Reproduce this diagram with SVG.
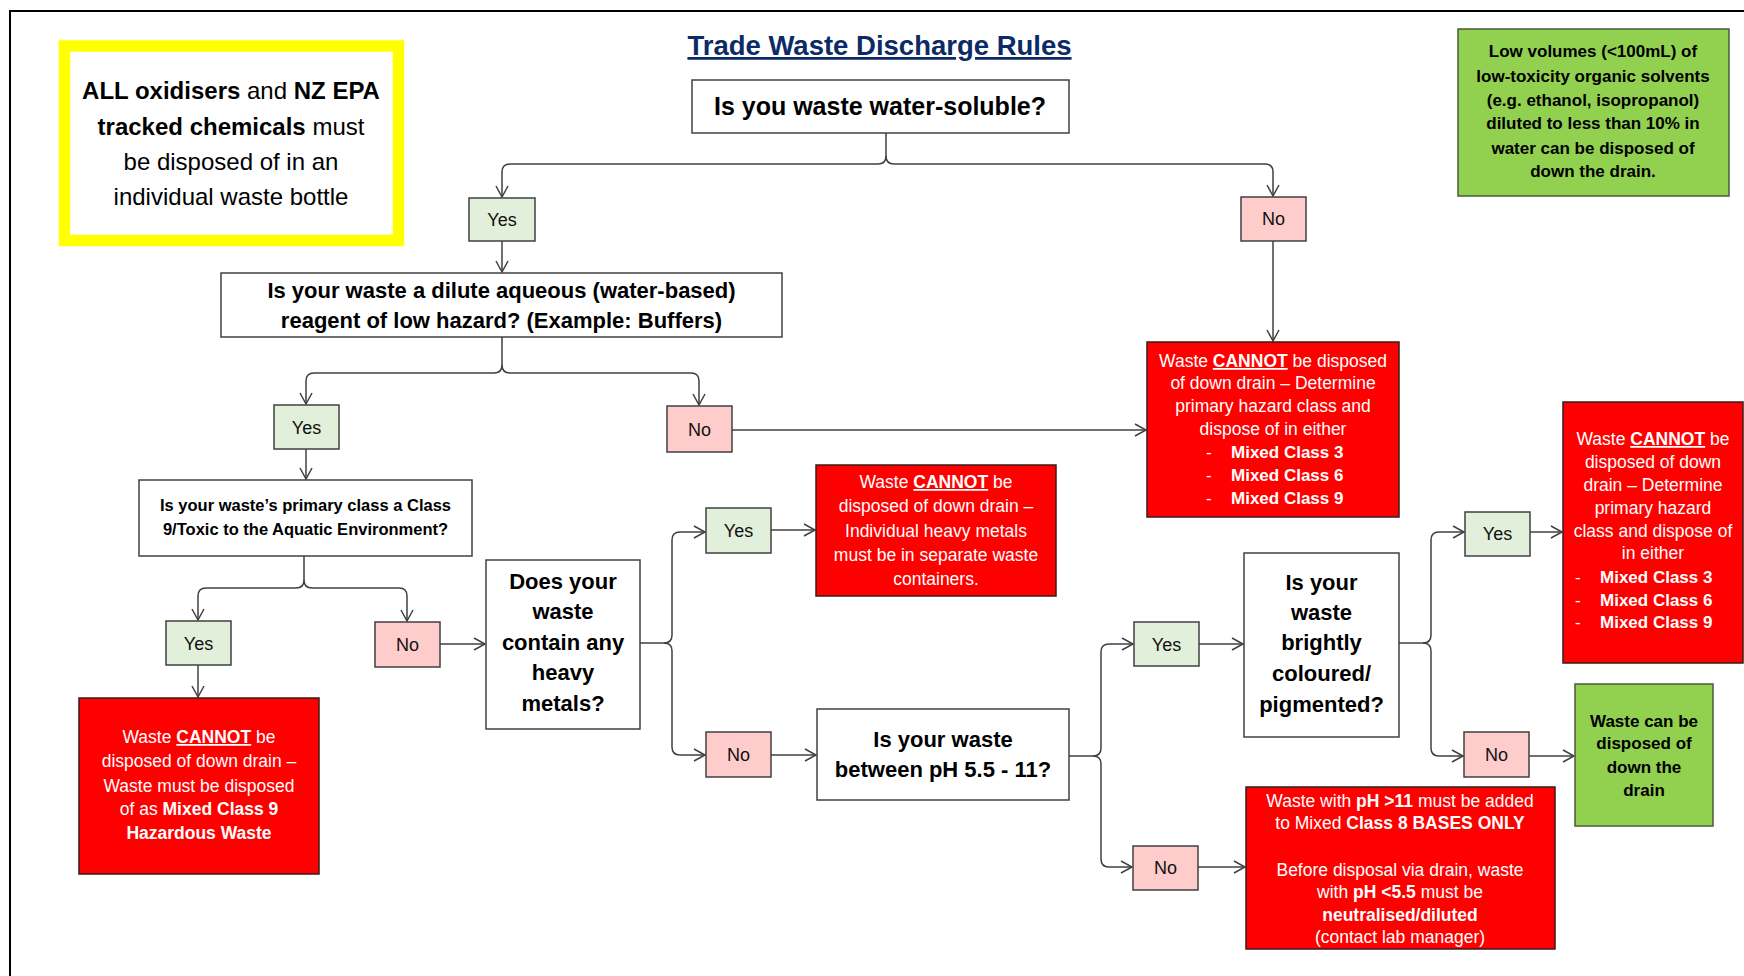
<svg xmlns="http://www.w3.org/2000/svg" width="1744" height="976" viewBox="0 0 1744 976">
<defs>
<style>
text{font-family:"Liberation Sans",Arial,sans-serif;}
.q{fill:#fff;stroke:#404040;stroke-width:1.5;}
.yes{fill:#e2efda;stroke:#404040;stroke-width:1.5;}
.no{fill:#ffcccc;stroke:#404040;stroke-width:1.5;}
.red{fill:#ff0000;stroke:#3a1a1a;stroke-width:1.5;}
.grn{fill:#92d050;stroke:#4a5a3a;stroke-width:1.5;}
.lbl{font-size:18px;fill:#111;text-anchor:middle;}
.qt{font-weight:bold;fill:#000;text-anchor:middle;}
.rt{font-size:17.5px;fill:#fff;text-anchor:middle;}
.gt{font-size:17px;font-weight:bold;fill:#000;text-anchor:middle;}
.b{font-weight:bold;}
.u{text-decoration:underline;font-weight:bold;}
.c{fill:none;stroke:#404040;stroke-width:1.5;}
</style>
<marker id="ah" markerUnits="userSpaceOnUse" markerWidth="14" markerHeight="16" viewBox="-1 -8 13 16" refX="11" refY="0" orient="auto">
<path d="M0,-6 L11,0 L0,6" fill="none" stroke="#404040" stroke-width="1.5"/>
</marker>
</defs>
<rect width="1744" height="976" fill="#fff"/>
<rect x="10" y="11" width="1760" height="1000" fill="none" stroke="#000" stroke-width="2"/>

<g id="title">
<text x="879.5" y="55" font-size="27.5" font-weight="bold" fill="#0b2a66" text-anchor="middle" style="text-decoration:underline">Trade Waste Discharge Rules</text>
</g>

<g id="note-yellow">
<rect x="64.5" y="46" width="334" height="194.5" fill="#fff" stroke="#ffff00" stroke-width="11.5"/>
<text x="231" y="99" font-size="24" text-anchor="middle" fill="#000"><tspan class="b">ALL oxidisers</tspan> and <tspan class="b">NZ EPA</tspan></text>
<text x="231" y="135" font-size="24" text-anchor="middle" fill="#000"><tspan class="b">tracked chemicals</tspan> must</text>
<text x="231" y="170" font-size="24" text-anchor="middle" fill="#000">be disposed of in an</text>
<text x="231" y="205" font-size="24" text-anchor="middle" fill="#000">individual waste bottle</text>
</g>

<g id="note-green">
<rect class="grn" x="1458" y="29" width="271" height="167"/>
<text class="gt" x="1593" y="57">Low volumes (&lt;100mL) of</text>
<text class="gt" x="1593" y="82">low-toxicity organic solvents</text>
<text class="gt" x="1593" y="106">(e.g. ethanol, isopropanol)</text>
<text class="gt" x="1593" y="129">diluted to less than 10% in</text>
<text class="gt" x="1593" y="154">water can be disposed of</text>
<text class="gt" x="1593" y="177">down the drain.</text>
</g>

<g id="connectors">
<path class="c" d="M886 133 V156 Q886 164 878 164 H510 Q502 164 502 172 V197" marker-end="url(#ah)"/>
<path class="c" d="M886 156 Q886 164 894 164 H1265 Q1273 164 1273 172 V196" marker-end="url(#ah)"/>
<path class="c" d="M502 241 V272" marker-end="url(#ah)"/>
<path class="c" d="M1273 241 V341" marker-end="url(#ah)"/>
<path class="c" d="M502 337 V365 Q502 373 494 373 H314 Q306 373 306 381 V404" marker-end="url(#ah)"/>
<path class="c" d="M502 365 Q502 373 510 373 H691 Q699 373 699 381 V405" marker-end="url(#ah)"/>
<path class="c" d="M732 430 H1146" marker-end="url(#ah)"/>
<path class="c" d="M306 449 V479" marker-end="url(#ah)"/>
<path class="c" d="M304 556 V580 Q304 588 296 588 H206 Q198 588 198 596 V620" marker-end="url(#ah)"/>
<path class="c" d="M304 580 Q304 588 312 588 H399 Q407 588 407 596 V621" marker-end="url(#ah)"/>
<path class="c" d="M198 665 V697" marker-end="url(#ah)"/>
<path class="c" d="M440 644 H485" marker-end="url(#ah)"/>
<path class="c" d="M640 643 H664 Q672 643 672 635 V540 Q672 532 680 532 H705" marker-end="url(#ah)"/>
<path class="c" d="M664 643 Q672 643 672 651 V747 Q672 755 680 755 H705" marker-end="url(#ah)"/>
<path class="c" d="M771 530 H815" marker-end="url(#ah)"/>
<path class="c" d="M771 755 H816" marker-end="url(#ah)"/>
<path class="c" d="M1069 756 H1093 Q1101 756 1101 748 V652 Q1101 644 1109 644 H1133" marker-end="url(#ah)"/>
<path class="c" d="M1093 756 Q1101 756 1101 764 V859 Q1101 867 1109 867 H1132" marker-end="url(#ah)"/>
<path class="c" d="M1199 644 H1243" marker-end="url(#ah)"/>
<path class="c" d="M1198 867 H1245" marker-end="url(#ah)"/>
<path class="c" d="M1399 643 H1423 Q1431 643 1431 635 V540 Q1431 532 1439 532 H1464" marker-end="url(#ah)"/>
<path class="c" d="M1423 643 Q1431 643 1431 651 V748 Q1431 756 1439 756 H1463" marker-end="url(#ah)"/>
<path class="c" d="M1530 532 H1562" marker-end="url(#ah)"/>
<path class="c" d="M1529 756 H1574" marker-end="url(#ah)"/>
</g>

<g id="q1">
<rect class="q" x="692" y="80" width="377" height="53"/>
<text class="qt" x="880" y="115" font-size="25">Is you waste water-soluble?</text>
</g>
<g id="yes1"><rect class="yes" x="469" y="198" width="66" height="43"/><text class="lbl" x="502" y="226">Yes</text></g>
<g id="no1"><rect class="no" x="1241" y="197" width="65" height="44"/><text class="lbl" x="1273.5" y="225">No</text></g>

<g id="q2">
<rect class="q" x="221" y="273" width="561" height="64"/>
<text class="qt" x="501.5" y="298" font-size="22">Is your waste a dilute aqueous (water-based)</text>
<text class="qt" x="501.5" y="328" font-size="22">reagent of low hazard? (Example: Buffers)</text>
</g>
<g id="yes2"><rect class="yes" x="274" y="405" width="65" height="44"/><text class="lbl" x="306.5" y="434">Yes</text></g>
<g id="no2"><rect class="no" x="667" y="406" width="65" height="46"/><text class="lbl" x="699.5" y="436">No</text></g>

<g id="red1">
<rect class="red" x="1147" y="342" width="252" height="175"/>
<text class="rt" x="1273" y="367" font-size="17">Waste <tspan class="u">CANNOT</tspan> be disposed</text>
<text class="rt" x="1273" y="389" font-size="17">of down drain – Determine</text>
<text class="rt" x="1273" y="412" font-size="17">primary hazard class and</text>
<text class="rt" x="1273" y="435" font-size="17">dispose of in either</text>
<text fill="#fff" font-size="17"><tspan x="1206" y="458">-</tspan><tspan x="1231" y="458" class="b">Mixed Class 3</tspan></text>
<text fill="#fff" font-size="17"><tspan x="1206" y="481">-</tspan><tspan x="1231" y="481" class="b">Mixed Class 6</tspan></text>
<text fill="#fff" font-size="17"><tspan x="1206" y="504">-</tspan><tspan x="1231" y="504" class="b">Mixed Class 9</tspan></text>
</g>

<g id="q3">
<rect class="q" x="139" y="480" width="333" height="76"/>
<text class="qt" x="305.5" y="511" font-size="16.5">Is your waste’s primary class a Class</text>
<text class="qt" x="305.5" y="535" font-size="16.5">9/Toxic to the Aquatic Environment?</text>
</g>
<g id="yes3"><rect class="yes" x="166" y="621" width="65" height="44"/><text class="lbl" x="198.5" y="650">Yes</text></g>
<g id="no3"><rect class="no" x="375" y="622" width="65" height="45"/><text class="lbl" x="407.5" y="651">No</text></g>

<g id="red2">
<rect class="red" x="79" y="698" width="240" height="176"/>
<text class="rt" x="199" y="743">Waste <tspan class="u">CANNOT</tspan> be</text>
<text class="rt" x="199" y="767">disposed of down drain –</text>
<text class="rt" x="199" y="792">Waste must be disposed</text>
<text class="rt" x="199" y="815">of as <tspan class="b">Mixed Class 9</tspan></text>
<text class="rt b" x="199" y="839">Hazardous Waste</text>
</g>

<g id="q4">
<rect class="q" x="486" y="560" width="154" height="169"/>
<text class="qt" x="563" y="589" font-size="22">Does your</text>
<text class="qt" x="563" y="619" font-size="22">waste</text>
<text class="qt" x="563" y="650" font-size="22">contain any</text>
<text class="qt" x="563" y="680" font-size="22">heavy</text>
<text class="qt" x="563" y="711" font-size="22">metals?</text>
</g>
<g id="yes4"><rect class="yes" x="706" y="508" width="65" height="45"/><text class="lbl" x="738.5" y="537">Yes</text></g>
<g id="no4"><rect class="no" x="706" y="732" width="65" height="45"/><text class="lbl" x="738.5" y="761">No</text></g>

<g id="red3">
<rect class="red" x="816" y="465" width="240" height="131"/>
<text class="rt" x="936" y="488">Waste <tspan class="u">CANNOT</tspan> be</text>
<text class="rt" x="936" y="512">disposed of down drain –</text>
<text class="rt" x="936" y="537">Individual heavy metals</text>
<text class="rt" x="936" y="561">must be in separate waste</text>
<text class="rt" x="936" y="585">containers.</text>
</g>

<g id="q5">
<rect class="q" x="817" y="709" width="252" height="91"/>
<text class="qt" x="943" y="747" font-size="22">Is your waste</text>
<text class="qt" x="943" y="777" font-size="22">between pH 5.5 - 11?</text>
</g>
<g id="yes5"><rect class="yes" x="1134" y="622" width="65" height="44"/><text class="lbl" x="1166.5" y="651">Yes</text></g>
<g id="no5"><rect class="no" x="1133" y="846" width="65" height="44"/><text class="lbl" x="1165.5" y="874">No</text></g>

<g id="red4">
<rect class="red" x="1246" y="787" width="309" height="162"/>
<text class="rt" x="1400" y="807">Waste with <tspan class="b">pH &gt;11</tspan> must be added</text>
<text class="rt" x="1400" y="829">to Mixed <tspan class="b">Class 8 BASES ONLY</tspan></text>
<text class="rt" x="1400" y="876">Before disposal via drain, waste</text>
<text class="rt" x="1400" y="898">with <tspan class="b">pH &lt;5.5</tspan> must be</text>
<text class="rt b" x="1400" y="921">neutralised/diluted</text>
<text class="rt" x="1400" y="943">(contact lab manager)</text>
</g>

<g id="q6">
<rect class="q" x="1244" y="553" width="155" height="184"/>
<text class="qt" x="1321.5" y="590" font-size="22">Is your</text>
<text class="qt" x="1321.5" y="620" font-size="22">waste</text>
<text class="qt" x="1321.5" y="650" font-size="22">brightly</text>
<text class="qt" x="1321.5" y="681" font-size="22">coloured/</text>
<text class="qt" x="1321.5" y="712" font-size="22">pigmented?</text>
</g>
<g id="yes6"><rect class="yes" x="1465" y="512" width="65" height="44"/><text class="lbl" x="1497.5" y="540">Yes</text></g>
<g id="no6"><rect class="no" x="1464" y="732" width="65" height="45"/><text class="lbl" x="1496.5" y="761">No</text></g>

<g id="red5">
<rect class="red" x="1563" y="402" width="180" height="261"/>
<text class="rt" x="1653" y="445" font-size="17">Waste <tspan class="u">CANNOT</tspan> be</text>
<text class="rt" x="1653" y="468" font-size="17">disposed of down</text>
<text class="rt" x="1653" y="491" font-size="17">drain – Determine</text>
<text class="rt" x="1653" y="514" font-size="17">primary hazard</text>
<text class="rt" x="1653" y="537" font-size="17">class and dispose of</text>
<text class="rt" x="1653" y="559" font-size="17">in either</text>
<text fill="#fff" font-size="17"><tspan x="1575" y="583">-</tspan><tspan x="1600" y="583" class="b">Mixed Class 3</tspan></text>
<text fill="#fff" font-size="17"><tspan x="1575" y="606">-</tspan><tspan x="1600" y="606" class="b">Mixed Class 6</tspan></text>
<text fill="#fff" font-size="17"><tspan x="1575" y="628">-</tspan><tspan x="1600" y="628" class="b">Mixed Class 9</tspan></text>
</g>

<g id="green2">
<rect class="grn" x="1575" y="684" width="138" height="142"/>
<text class="gt" x="1644" y="727" font-size="16.5">Waste can be</text>
<text class="gt" x="1644" y="749" font-size="16.5">disposed of</text>
<text class="gt" x="1644" y="773" font-size="16.5">down the</text>
<text class="gt" x="1644" y="796" font-size="16.5">drain</text>
</g>
</svg>
